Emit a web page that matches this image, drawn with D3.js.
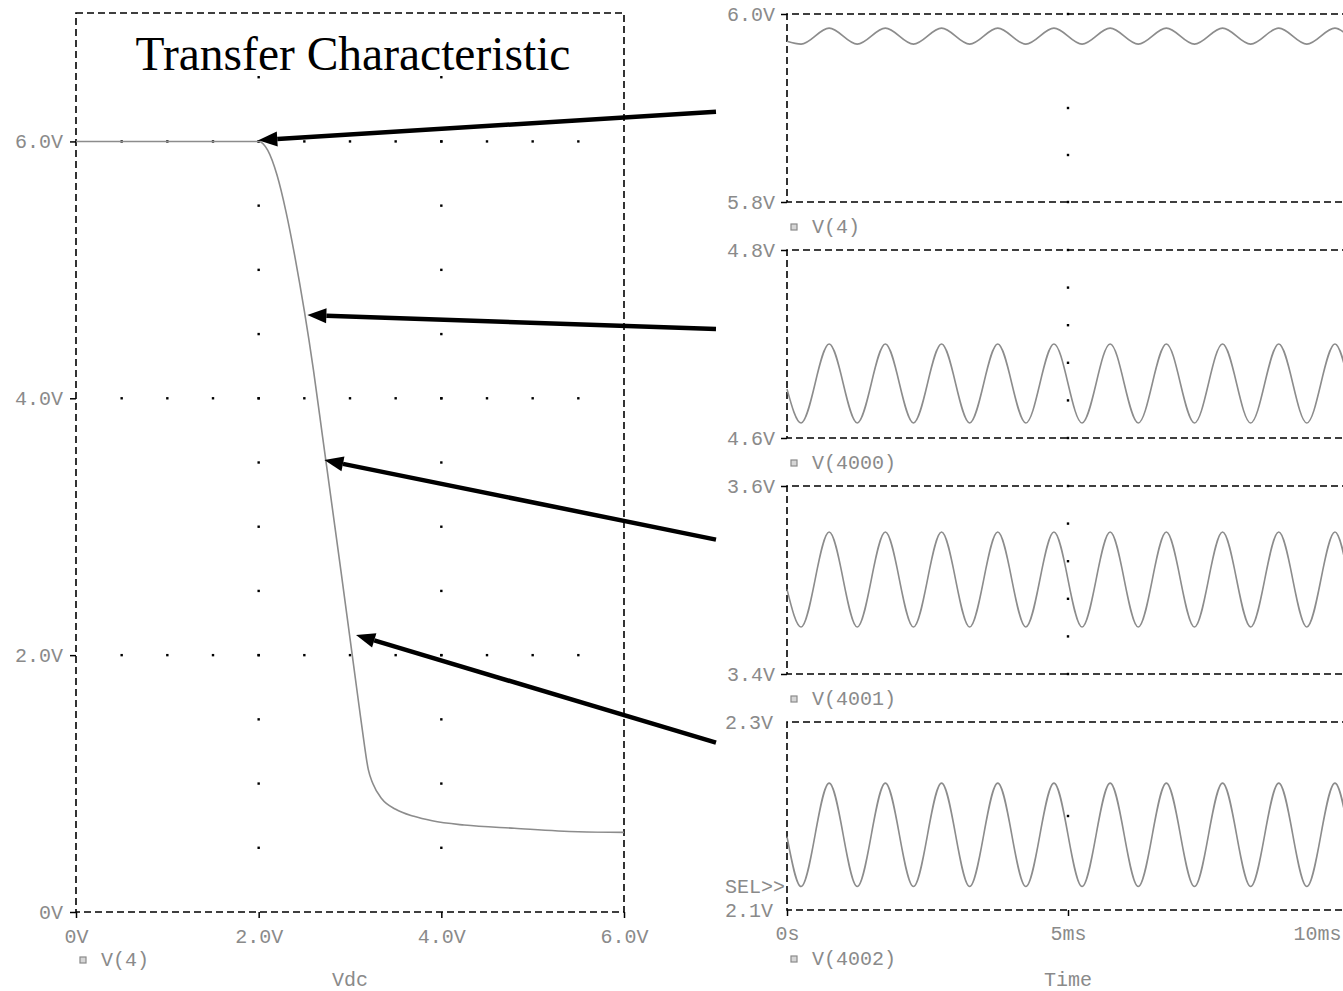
<!DOCTYPE html>
<html>
<head>
<meta charset="utf-8">
<script src="https://cdn.jsdelivr.net/npm/d3@7"></script>
<style>
  body { margin: 0; background: #fff; }
  .tick text, .lbl { font-family: "Liberation Mono", monospace; font-size: 20px; fill: #8a8a8a; }
  .tick line { stroke: #000; stroke-width: 1.5; }
  .frame { fill: none; stroke: #000; stroke-width: 1.6; stroke-dasharray: 7,4; }
  .trace { fill: none; stroke: #8c8c8c; stroke-width: 1.6; }
  .arrow { stroke: #000; stroke-width: 4.5; }
</style>
</head>
<body>
<svg width="1343" height="991"></svg>
<script>
// transfer characteristic V(4) vs Vdc
const vdc  = [0, 1.0, 2.0, 2.1, 2.2, 2.3, 2.4, 2.5, 2.6, 2.7, 2.8, 2.9, 3.0, 3.1, 3.15, 3.2, 3.25, 3.35, 3.5, 3.7, 3.9, 4.25, 4.8, 5.5, 6.0];
const v4dc = [6.0, 6.0, 6.0, 5.93, 5.74, 5.45, 5.09, 4.68, 4.22, 3.70, 3.18, 2.66, 2.13, 1.60, 1.34, 1.11, 1.00, 0.88, 0.80, 0.745, 0.71, 0.677, 0.652, 0.625, 0.62];
const vdcTicks = [0, 2, 4, 6];
const vdcTickLabels = ['0V', '2.0V', '4.0V', '6.0V'];

// transient traces: start, then trough / peak of every cycle, then end (ms)
const timeMs = [0, 0.25, 0.75, 1.25, 1.75, 2.25, 2.75, 3.25, 3.75, 4.25, 4.75, 5.25, 5.75, 6.25, 6.75, 7.25, 7.75, 8.25, 8.75, 9.25, 9.75, 10];
const v4     = [5.971, 5.968, 5.985, 5.968, 5.985, 5.968, 5.985, 5.968, 5.985, 5.968, 5.985, 5.968, 5.985, 5.968, 5.985, 5.968, 5.985, 5.968, 5.985, 5.968, 5.985, 5.976];
const v4000  = [4.652, 4.616, 4.700, 4.616, 4.700, 4.616, 4.700, 4.616, 4.700, 4.616, 4.700, 4.616, 4.700, 4.616, 4.700, 4.616, 4.700, 4.616, 4.700, 4.616, 4.700, 4.658];
const v4001  = [3.490, 3.450, 3.551, 3.450, 3.551, 3.450, 3.551, 3.450, 3.551, 3.450, 3.551, 3.450, 3.551, 3.450, 3.551, 3.450, 3.551, 3.450, 3.551, 3.450, 3.551, 3.500];
const v4002  = [2.178, 2.125, 2.235, 2.125, 2.235, 2.125, 2.235, 2.125, 2.235, 2.125, 2.235, 2.125, 2.235, 2.125, 2.235, 2.125, 2.235, 2.125, 2.235, 2.125, 2.235, 2.180];
const timeTicks = [0, 5, 10];
const timeTickLabels = ['0s', '5ms', '10ms'];

const panelNames = ['V(4)', 'V(4000)', 'V(4001)', 'V(4002)'];
const panelDomains = [[5.8, 6.0], [4.6, 4.8], [3.4, 3.6], [2.1, 2.3]];
const panelSeries = [v4, v4000, v4001, v4002];
const panelGridDots = [[5.90, 5.85], [4.76, 4.72, 4.68, 4.64], [3.56, 3.52, 3.48, 3.44], [2.20]];

// arrows: tip on the transfer curve (Vdc, V), tail level in each panel (V)
const arrowTips = [[1.996, 6.01], [2.533, 4.648], [2.719, 3.519], [3.066, 2.157]];
const arrowTails = [5.896, 4.716, 3.543, 2.278];

const svg = d3.select('svg');
const W = +svg.attr('width');
const L = {left: 76, right: 624, top: 13, bottom: 912};
const R = {left: 787, right: 1349, top: 14, pitch: 236, height: 188};

const xL = d3.scaleLinear().domain([0, 6]).range([L.left, L.right]);
const yL = d3.scaleLinear().domain([0, 7]).range([L.bottom, L.top]);
const xR = d3.scaleLinear().domain([0, 10]).range([R.left, R.right]);
const yR = panelDomains.map((dom, i) => d3.scaleLinear()
  .domain(dom)
  .range([R.top + i * R.pitch + R.height, R.top + i * R.pitch]));

const dot = (g, x, y) => g.append('rect')
  .attr('x', x - 1.2).attr('y', y - 1.2)
  .attr('width', 2.4).attr('height', 2.4)
  .attr('fill', '#000');

// ---- left plot ----
const gL = svg.append('g');
const minorY = d3.range(0.5, 7, 0.5);
const minorX = d3.range(0.5, 6, 0.5);
[2, 4].forEach(v => minorY.forEach(m => dot(gL, xL(v), yL(m))));
[2, 4, 6].forEach(v => minorX.forEach(m => dot(gL, xL(m), yL(v))));

gL.append('rect').attr('class', 'frame')
  .attr('x', L.left).attr('y', L.top)
  .attr('width', L.right - L.left).attr('height', L.bottom - L.top);

gL.append('g').attr('transform', `translate(${L.left},0)`)
  .call(d3.axisLeft(yL).tickValues(vdcTicks).tickFormat((d, j) => vdcTickLabels[j]).tickSize(6).tickPadding(7))
  .call(g => g.select('.domain').remove());
gL.append('g').attr('transform', `translate(0,${L.bottom})`)
  .call(d3.axisBottom(xL).tickValues(vdcTicks).tickFormat((d, j) => vdcTickLabels[j]).tickSize(6).tickPadding(11))
  .call(g => g.select('.domain').remove());

const transferLine = d3.line()
  .x((d, i) => xL(vdc[i]))
  .y(d => yL(d))
  .curve(d3.curveMonotoneX);
gL.append('path').attr('class', 'trace').attr('d', transferLine(v4dc));

const legend = (g, x, y, name) => {
  g.append('rect').attr('x', x + 4).attr('y', y - 3)
    .attr('width', 6).attr('height', 6)
    .attr('fill', '#d6d6d6').attr('stroke', '#8a8a8a').attr('stroke-width', 1.2);
  g.append('text').attr('class', 'lbl')
    .attr('x', x + 25).attr('y', y)
    .attr('dominant-baseline', 'central')
    .text(name);
};
legend(gL, L.left, L.bottom + 48, 'V(4)');
gL.append('text').attr('class', 'lbl')
  .attr('x', (L.left + L.right) / 2).attr('y', L.bottom + 68)
  .attr('text-anchor', 'middle').attr('dominant-baseline', 'central')
  .text('Vdc');

svg.append('text')
  .attr('x', 353).attr('y', 70)
  .attr('text-anchor', 'middle')
  .style('font-family', '"Liberation Serif", "Times New Roman", serif')
  .style('font-size', '47.5px')
  .attr('fill', '#000')
  .text('Transfer Characteristic');

// ---- right stacked transient panels ----
const traceLine = y => d3.line()
  .x((d, i) => xR(timeMs[i]))
  .y(d => y(d))
  .curve(d3.curveMonotoneX);

panelDomains.forEach((dom, i) => {
  const y = yR[i];
  const g = svg.append('g');
  const top = y(dom[1]), bottom = y(dom[0]);

  const dots = i < 3 ? [dom[1], ...panelGridDots[i], dom[0]] : panelGridDots[i];
  dots.forEach(v => dot(g, xR(5), y(v)));

  g.append('path').attr('class', 'frame')
    .attr('d', `M${R.right},${top}H${R.left}V${bottom}H${R.right}`);

  g.append('g').attr('transform', `translate(${R.left},0)`)
    .call(d3.axisLeft(y).tickValues(dom).tickFormat(d => d3.format('.1f')(d) + 'V')
      .tickSize(i < 3 ? 6 : 0).tickPadding(i < 3 ? 6 : 14))
    .call(a => a.select('.domain').remove());

  g.append('path').attr('class', 'trace').attr('d', traceLine(y)(panelSeries[i]));

  if (i < 3) {
    legend(g, R.left, bottom + 25, panelNames[i]);
  } else {
    g.append('g').attr('transform', `translate(0,${bottom})`)
      .call(d3.axisBottom(xR).tickValues(timeTicks).tickFormat((d, j) => timeTickLabels[j]).tickSize(6).tickPadding(10))
      .call(a => a.select('.domain').remove())
      // last label would run past the page edge: pull it in
      .call(a => a.selectAll('.tick text')
        .filter(d => xR(d) > W - 30)
        .attr('text-anchor', 'end')
        .attr('x', d => W - 2 - xR(d)));
    legend(g, R.left, bottom + 49, panelNames[i]);
    g.append('text').attr('class', 'lbl')
      .attr('x', (R.left + R.right) / 2).attr('y', bottom + 70)
      .attr('text-anchor', 'middle').attr('dominant-baseline', 'central')
      .text('Time');
    g.append('text').attr('class', 'lbl')
      .attr('x', R.left - 2).attr('y', bottom - 23)
      .attr('text-anchor', 'end').attr('dominant-baseline', 'central')
      .text('SEL>>');
  }
});

// ---- arrows from each panel to its operating point ----
const gA = svg.append('g');
arrowTips.forEach(([vx, vy], i) => {
  const x2 = xL(vx), y2 = yL(vy);
  const x1 = R.left - 71, y1 = yR[i](arrowTails[i]);
  const a = Math.atan2(y1 - y2, x1 - x2);
  const hl = 19, hw = 7.5;
  const bx = x2 + hl * Math.cos(a), by = y2 + hl * Math.sin(a);
  gA.append('line').attr('class', 'arrow')
    .attr('x1', x1).attr('y1', y1).attr('x2', bx).attr('y2', by);
  gA.append('path').attr('fill', '#000')
    .attr('d', `M${x2},${y2}L${bx - hw * Math.sin(a)},${by + hw * Math.cos(a)}L${bx + hw * Math.sin(a)},${by - hw * Math.cos(a)}Z`);
});
</script>
</body>
</html>
